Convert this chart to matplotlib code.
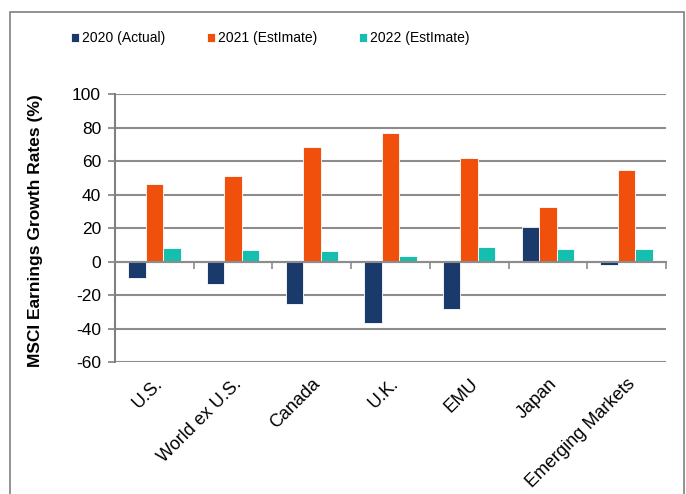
import matplotlib
matplotlib.use('Agg')
import matplotlib.pyplot as plt
import matplotlib.transforms as mtransforms
from matplotlib.patches import Rectangle
import numpy as np

plt.rcParams['font.family'] = ['Liberation Sans', 'DejaVu Sans']
plt.rcParams['axes.unicode_minus'] = False

# data
regions = ['U.S.', 'World ex U.S.', 'Canada', 'U.K.', 'EMU', 'Japan', 'Emerging Markets']
growth_2020 = [-10.0, -13.3, -25.4, -36.5, -28.6, 20.7, -2.2]
growth_2021 = [46.3, 51.2, 68.5, 76.9, 61.6, 32.4, 54.6]
growth_2022 = [8.3, 6.8, 6.4, 3.4, 8.7, 7.2, 7.2]
series_names = ['2020 (Actual)', '2021 (EstImate)', '2022 (EstImate)']
colors = ['#1a3a6b', '#f0500b', '#14bfb0']
y_ticks = [-60, -40, -20, 0, 20, 40, 60, 80, 100]

fig = plt.figure(figsize=(6.86, 4.94), dpi=100)
ax = fig.add_axes([0.1676, 0.2672, 0.8032, 0.5425])

x = np.arange(len(regions))
w = 1 / 4.5
for k, vals in enumerate([growth_2020, growth_2021, growth_2022]):
    ax.bar(x + (k - 1) * w, vals, width=w, color=colors[k], edgecolor='white',
           linewidth=0.6, label=series_names[k], zorder=3)

ax.set_xlim(-0.5, len(regions) - 0.5)
ax.set_ylim(-60, 100)
ax.set_yticks(y_ticks)
ax.tick_params(axis='y', labelsize=12.5, length=5, color='#808080', width=1.2, pad=5)
ax.yaxis.grid(True, color='#8c8c8c', linewidth=1.5, zorder=0)
ax.set_axisbelow(True)

for s in ['top', 'right']:
    ax.spines[s].set_visible(False)
ax.spines['left'].set_color('#808080')
ax.spines['left'].set_linewidth(1.5)
ax.spines['bottom'].set_position(('data', 0))
ax.spines['bottom'].set_color('#8c8c8c')
ax.spines['bottom'].set_linewidth(1.5)
ax.spines['bottom'].set_zorder(4)

# boundary ticks on the zero line, labels below the plot
ax.set_xticks(np.arange(len(regions) + 1) - 0.5)
ax.set_xticklabels([])
ax.tick_params(axis='x', length=5, color='#8c8c8c', width=1.2, direction='out')
trans = mtransforms.blended_transform_factory(ax.transData, ax.transAxes)
for i, name in enumerate(regions):
    ax.text(i + 0.0, -0.05, name, transform=trans, rotation=45, ha='right', va='top',
            rotation_mode='anchor', fontsize=13)

ax.set_ylabel('MSCI Earnings Growth Rates (%)', fontsize=12.5, fontweight='bold')
ax.yaxis.set_label_coords(-0.131, 0.49)

fig.legend(loc='center', bbox_to_anchor=(0.394, 0.923), ncol=3, frameon=False,
           fontsize=10, handlelength=0.6, handleheight=0.6, handletextpad=0.2,
           columnspacing=3.0)

fig.patches.append(Rectangle((10 / 686, -0.1), 674 / 686, 1.1 - 12 / 494, transform=fig.transFigure,
                             fill=False, edgecolor='#808080', linewidth=1.2))

fig.savefig('out.png', dpi=100)
